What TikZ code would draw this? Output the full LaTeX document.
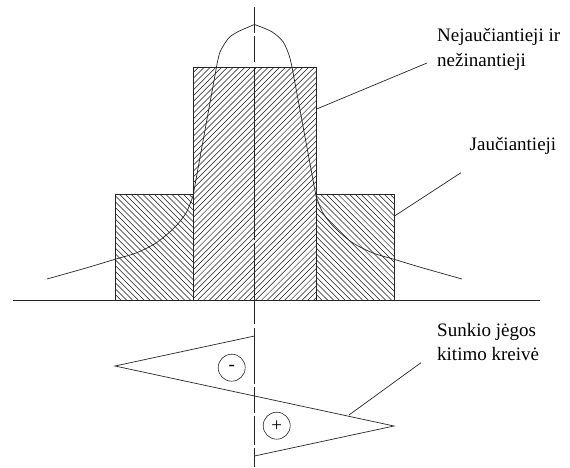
\documentclass[tikz,border=0pt]{standalone}
\usepackage{fontspec}
\setmainfont{Liberation Serif}
\usetikzlibrary{calc}
\tikzset{
	hatchline/.style={line width=0.5pt, black!90},
	outline/.style={draw=black!85, line width=0.8pt},
	curve/.style={draw=black!85, line width=0.7pt},
	label/.style={font=\fontsize{19}{24.6}\selectfont, align=left, anchor=north west, inner sep=0pt},
	signcircle/.style={circle, draw=black!85, line width=0.6pt, minimum size=27pt, inner sep=0pt, font=\fontsize{19}{19}\selectfont}
}
\begin{document}
\begin{tikzpicture}[x=1pt, y=-1pt]
	\useasboundingbox (0,0) rectangle (570,468);
	
	% hatching
	\begin{scope}
		\clip (193,67) rectangle (316,300);
		\foreach \i in {0,5.8,...,370}
			\draw[hatchline] (\i+193-233,300) -- ++(233,-233);
	\end{scope}
	\begin{scope}
		\clip (115,194) rectangle (193,300);
		\foreach \i in {0,5.8,...,190}
			\draw[hatchline] (\i+115-106,194) -- ++(106,106);
	\end{scope}
	\begin{scope}
		\clip (316,194) rectangle (394,300);
		\foreach \i in {0,5.8,...,190}
			\draw[hatchline] (\i+316-106,194) -- ++(106,106);
	\end{scope}
	
	% blocks
	\draw[outline] (193,300) -- (193,67) -- (316,67) -- (316,300);
	\draw[outline] (193,194) -- (115,194) -- (115,300);
	\draw[outline] (316,194) -- (394,194) -- (394,300);
	\draw[outline] (13,300) -- (540,300);
	
	% axis
	\draw[outline] (254.5,7) -- (254.5,33);
	\draw[outline] (254.5,36) -- (254.5,62);
	\draw[outline] (254.5,67) -- (254.5,240);
	\draw[outline] (254.5,243) -- (254.5,324);
	\draw[outline] (254.5,328) -- (254.5,384);
	\draw[outline] (254.5,387) -- (254.5,413);
	\draw[outline] (254.5,416) -- (254.5,445);
	\draw[outline] (254.5,448) -- (254.5,467);
	
	% distribution
	\draw[curve] plot[smooth, tension=0.5] coordinates {(47,279) (86,268) (116,259) (136,253) (156,243) (174,228) (186,213) (193,196)};
	\draw[curve] plot[smooth, tension=0.5] coordinates {(462,279) (423,268) (393,259) (373,253) (353,243) (335,228) (323,213) (316,196)};
	\draw[curve] (193,196) -- (216.5,67);
	\draw[curve] (316,196) -- (292,67);
	\draw[curve] plot[smooth, tension=0.5] coordinates {(216.5,67) (220,52) (228.3,38.5) (238,31.7) (254.5,24.5)};
	\draw[curve] plot[smooth, tension=0.5] coordinates {(292,67) (289,55) (283,41.7) (271.7,31.7) (254.5,24.5)};
	
	% force curve
	\coordinate (tipleft) at (115,366);
	\coordinate (tipright) at (394,426);
	\coordinate (topend) at (254.5,336);
	\coordinate (botend) at (254.5,456);
	\draw[curve] (topend) -- (tipleft) -- (tipright) -- (botend);
	\node[signcircle] (minus) at (231.7,367.7) {-};
	\node[signcircle] (plus) at (276.7,425.7) {+};
	
	% labels
	\node[label] (nejaut) at (437,28.5) {Nejaučiantieji ir\\nežinantieji};
	\node[label] (jaut) at (469.5,137.5) {Jaučiantieji};
	\node[label] (kreive) at (437,323) {Sunkio jėgos\\kitimo kreivė};
	
	\coordinate (a1) at (316.7,109);
	\coordinate (a2) at (427,63);
	\coordinate (b1) at (395,215.7);
	\coordinate (b2) at (461,172.7);
	\coordinate (c1) at (349,415);
	\coordinate (c2) at (421,362.7);
	\draw[curve] (a1) -- (a2);
	\draw[curve] (b1) -- (b2);
	\draw[curve] (c1) -- (c2);
\end{tikzpicture}
\end{document}
